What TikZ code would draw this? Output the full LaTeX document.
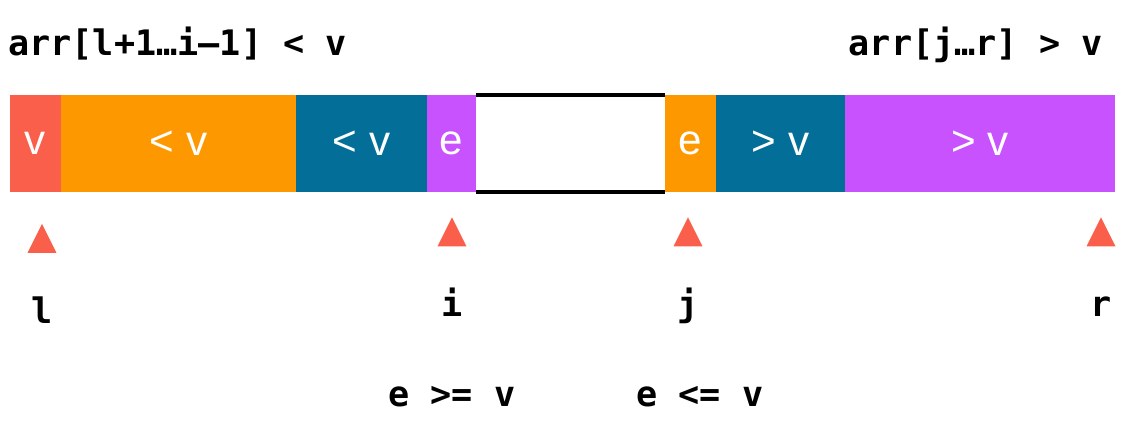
\documentclass[tikz,border=0pt]{standalone}
\usepackage{fontspec}
\setmainfont{Liberation Sans}
\newfontfamily\codefont{DejaVu Sans Mono}
\usetikzlibrary{shapes.geometric}
\definecolor{vred}{HTML}{FA5F4B}
\definecolor{vorange}{HTML}{FE9800}
\definecolor{vteal}{HTML}{036E98}
\definecolor{vpurple}{HTML}{C752FE}
\begin{document}
\begin{tikzpicture}[x=0.02cm,y=-0.02cm,
    seg/.style={rectangle,inner sep=0pt,outer sep=0pt,minimum height=1.94cm,
      text=white,font=\fontsize{24}{28}\selectfont},
    code/.style={font=\codefont\bfseries\fontsize{20}{24}\selectfont,inner sep=0pt},
    ptr/.style={isosceles triangle,isosceles triangle stretches,shape border rotate=90,
      fill=vred,inner sep=0pt,minimum width=0.58cm,minimum height=0.58cm}]
    \useasboundingbox (0,0) rectangle (1140,425);

    \node[code,anchor=base west] (lhs) at (8,56) {arr[l+1…i–1] < v};
    \node[code,anchor=base east] (rhs) at (1103,56) {arr[j…r] > v};

    \node[seg,fill=vred,minimum width=1.02cm] (piv) at (35.5,143.5) {v};
    \node[seg,fill=vorange,minimum width=4.70cm] (less1) at (178.5,143.5) {< v};
    \node[seg,fill=vteal,minimum width=2.62cm] (less2) at (361.5,143.5) {< v};
    \node[seg,fill=vpurple,minimum width=0.98cm] (ei) at (451.5,143.5) {e};
    \node[seg,fill=white,minimum width=3.78cm] (gap) at (570.5,143.5) {};
    \node[seg,fill=vorange,minimum width=1.02cm] (ej) at (690.5,143.5) {e};
    \node[seg,fill=vteal,minimum width=2.58cm] (more1) at (780.5,143.5) {> v};
    \node[seg,fill=vpurple,minimum width=5.40cm] (more2) at (980,143.5) {> v};
    \draw[line width=2.2pt] (gap.north west) -- (gap.north east) (gap.south west) -- (gap.south east);

    \node[ptr] (pl) at (42,244) {};
    \node[ptr] (pi) at (452,237.5) {};
    \node[ptr] (pj) at (688,237.5) {};
    \node[ptr] (pr) at (1101,237.5) {};
    \node[code,anchor=base] (nl) at (42,324) {l};
    \node[code,anchor=base] (ni) at (452,317) {i};
    \node[code,anchor=base] (nj) at (688,317) {j};
    \node[code,anchor=base] (nr) at (1101,317) {r};

    \node[code,anchor=base west] (ci) at (388,407) {e >= v};
    \node[code,anchor=base west] (cj) at (636,407) {e <= v};
  \end{tikzpicture}
\end{document}
